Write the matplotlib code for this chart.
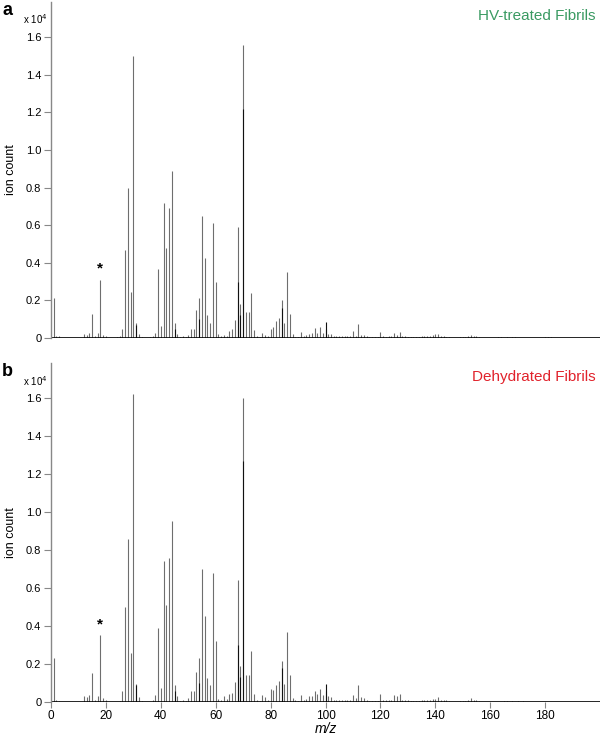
import matplotlib
matplotlib.use("Agg")
import matplotlib.pyplot as plt

plt.rcParams['font.family'] = ['Liberation Sans', 'DejaVu Sans']

# ──────────────────────────────────────────────
# Data (ion count in units of 1e4)
# rows of ten so that m/z and intensity stay aligned
# ──────────────────────────────────────────────

# panel a: HV-treated fibrils
mz_a = [1, 2, 3, 12, 13, 14, 15, 16, 17, 18,
        19, 20, 24, 25, 26, 27, 28, 29, 30, 31,
        32, 33, 36, 37, 38, 39, 40, 41, 42, 43,
        44, 45, 46, 47, 48, 49, 50, 51, 52, 53,
        54, 55, 56, 57, 58, 59, 60, 61, 62, 63,
        64, 65, 66, 67, 68, 69, 70, 71, 72, 73,
        74, 75, 76, 77, 78, 79, 80, 81, 82, 83,
        84, 85, 86, 87, 88, 89, 90, 91, 92, 93,
        94, 95, 96, 97, 98, 99, 100, 101, 102, 103,
        104, 105, 106, 107, 108, 109, 110, 111, 112, 113,
        114, 115, 116, 117, 118, 119, 120, 121, 122, 123,
        124, 125, 126, 127, 128, 129, 130, 131, 132, 133,
        134, 135, 136, 137, 138, 139, 140, 141, 142, 143,
        144, 145, 149, 150, 151, 152, 153, 154, 155, 156,
        163, 164, 166, 168, 169, 180, 181, 182]
ion_a = [0.21, 0.01, 0.008, 0.02, 0.015, 0.027, 0.13, 0.01, 0.025, 0.31,
         0.015, 0.012, 0.005, 0.008, 0.05, 0.47, 0.80, 0.245, 1.50, 0.08,
         0.02, 0.005, 0.005, 0.012, 0.027, 0.367, 0.064, 0.72, 0.48, 0.69,
         0.89, 0.08, 0.02, 0.005, 0.008, 0.005, 0.015, 0.05, 0.05, 0.15,
         0.21, 0.65, 0.425, 0.12, 0.08, 0.61, 0.30, 0.02, 0.01, 0.015,
         0.01, 0.037, 0.05, 0.095, 0.59, 0.18, 1.56, 0.14, 0.14, 0.24,
         0.04, 0.01, 0.005, 0.025, 0.015, 0.01, 0.05, 0.06, 0.09, 0.105,
         0.20, 0.08, 0.35, 0.13, 0.02, 0.006, 0.005, 0.03, 0.01, 0.015,
         0.02, 0.025, 0.053, 0.025, 0.06, 0.025, 0.05, 0.02, 0.02, 0.01,
         0.008, 0.01, 0.008, 0.01, 0.01, 0.012, 0.035, 0.01, 0.075, 0.015,
         0.015, 0.01, 0.006, 0.006, 0.005, 0.006, 0.03, 0.008, 0.006, 0.008,
         0.01, 0.025, 0.015, 0.03, 0.01, 0.008, 0.006, 0.006, 0.005, 0.006,
         0.006, 0.008, 0.01, 0.01, 0.012, 0.015, 0.02, 0.02, 0.01, 0.008,
         0.006, 0.006, 0.005, 0.005, 0.006, 0.008, 0.015, 0.008, 0.008, 0.006,
         0.004, 0.004, 0.004, 0.004, 0.004, 0.004, 0.005, 0.004]
# darker overlaid trace
mz_a_dark = [31, 45, 54, 68, 69, 70, 84, 100]
ion_a_dark = [0.07, 0.05, 0.10, 0.30, 0.12, 1.22, 0.16, 0.087]

# panel b: dehydrated fibrils
mz_b = [1, 2, 3, 12, 13, 14, 15, 16, 17, 18,
        19, 20, 25, 26, 27, 28, 29, 30, 31, 32,
        33, 37, 38, 39, 40, 41, 42, 43, 44, 45,
        46, 47, 48, 49, 50, 51, 52, 53, 54, 55,
        56, 57, 58, 59, 60, 61, 62, 63, 64, 65,
        66, 67, 68, 69, 70, 71, 72, 73, 74, 75,
        76, 77, 78, 79, 80, 81, 82, 83, 84, 85,
        86, 87, 88, 89, 90, 91, 92, 93, 94, 95,
        96, 97, 98, 99, 100, 101, 102, 103, 104, 105,
        106, 107, 108, 109, 110, 111, 112, 113, 114, 115,
        116, 117, 118, 119, 120, 121, 122, 123, 124, 125,
        126, 127, 128, 129, 130, 131, 132, 133, 134, 135,
        136, 137, 138, 139, 140, 141, 142, 143, 144, 145,
        149, 150, 151, 152, 153, 154, 155, 156, 165, 166,
        168, 170, 172]
ion_b = [0.23, 0.01, 0.006, 0.03, 0.025, 0.035, 0.15, 0.01, 0.03, 0.35,
         0.02, 0.01, 0.006, 0.06, 0.50, 0.86, 0.26, 1.62, 0.095, 0.025,
         0.006, 0.01, 0.035, 0.39, 0.075, 0.74, 0.51, 0.76, 0.95, 0.09,
         0.03, 0.006, 0.008, 0.006, 0.02, 0.06, 0.06, 0.16, 0.23, 0.70,
         0.45, 0.125, 0.09, 0.68, 0.32, 0.015, 0.01, 0.03, 0.015, 0.04,
         0.045, 0.105, 0.64, 0.19, 1.60, 0.14, 0.14, 0.27, 0.04, 0.01,
         0.006, 0.035, 0.025, 0.01, 0.07, 0.065, 0.09, 0.11, 0.215, 0.095,
         0.37, 0.14, 0.02, 0.01, 0.005, 0.035, 0.01, 0.015, 0.03, 0.03,
         0.06, 0.04, 0.07, 0.035, 0.06, 0.03, 0.025, 0.01, 0.01, 0.008,
         0.01, 0.01, 0.008, 0.012, 0.035, 0.02, 0.09, 0.025, 0.02, 0.01,
         0.006, 0.006, 0.006, 0.006, 0.04, 0.008, 0.008, 0.008, 0.01, 0.035,
         0.03, 0.04, 0.012, 0.01, 0.008, 0.006, 0.006, 0.006, 0.006, 0.008,
         0.01, 0.012, 0.012, 0.015, 0.018, 0.025, 0.012, 0.01, 0.008, 0.006,
         0.005, 0.006, 0.006, 0.008, 0.02, 0.008, 0.008, 0.006, 0.004, 0.004,
         0.004, 0.004, 0.004]
mz_b_dark = [31, 45, 54, 68, 69, 70, 84, 100]
ion_b_dark = [0.09, 0.06, 0.10, 0.30, 0.13, 1.27, 0.18, 0.095]

yticks = [0, 0.2, 0.4, 0.6, 0.8, 1.0, 1.2, 1.4, 1.6]
ytick_labels = ["0", "0.2", "0.4", "0.6", "0.8", "1.0", "1.2", "1.4", "1.6"]
xticks = [0, 20, 40, 60, 80, 100, 120, 140, 160, 180]

panels = [
    ("a", "HV-treated Fibrils", "#3a9a62", mz_a, ion_a, mz_a_dark, ion_a_dark, 18, 0.31),
    ("b", "Dehydrated Fibrils", "#e1222b", mz_b, ion_b, mz_b_dark, ion_b_dark, 18, 0.35),
]

# ──────────────────────────────────────────────
# Figure
# ──────────────────────────────────────────────

fig = plt.figure(figsize=(6.0, 7.36), dpi=100)
rects = [[0.085, 0.5408, 0.915, 0.4565],
         [0.085, 0.0462, 0.915, 0.4606]]
ytops = [1.787, 1.784]

for i, (tag, title, color, mz, ion, mzd, iond, star_x, star_y) in enumerate(panels):
    ax = fig.add_axes(rects[i])
    ax.vlines(mz, 0, ion, color="#6e6e6e", linewidth=0.8)
    ax.vlines(mzd, 0, iond, color="#111111", linewidth=0.8)
    ax.axhline(0, color="black", linewidth=1.2)

    ax.set_xlim(0, 200)
    ax.set_ylim(0, ytops[i])
    for s in ["top", "right", "bottom"]:
        ax.spines[s].set_visible(False)
    ax.spines["left"].set_color("#888888")
    ax.spines["left"].set_linewidth(1.0)

    ax.set_yticks(yticks)
    ax.set_yticklabels(ytick_labels)
    ax.tick_params(axis="y", direction="out", length=5, width=0.8,
                   color="#888888", labelsize=8, pad=2)
    ax.set_ylabel("ion count", fontsize=9, labelpad=6)

    if i == 1:
        ax.set_xticks(xticks)
        ax.tick_params(axis="x", direction="out", length=4, width=0.8,
                       color="#888888", labelsize=8.5, pad=2)
        ax.set_xlabel("m/z", fontsize=10, style="italic", labelpad=0)
    else:
        ax.set_xticks([])

    ax.text(star_x, star_y + 0.02, "*", ha="center", va="bottom",
            fontsize=11, fontweight="bold")
    ax.text(0.9925, 0.98, title, transform=ax.transAxes, ha="right",
            va="top", fontsize=11, color=color)
    ax.text(-0.089, 1.0, tag, transform=ax.transAxes, ha="left", va="top",
            fontsize=13, fontweight="bold")
    ax.text(-0.028, 0.948, r"x 10$^4$", transform=ax.transAxes, ha="center",
            va="center", fontsize=7)

fig.savefig("out.png", dpi=100)
